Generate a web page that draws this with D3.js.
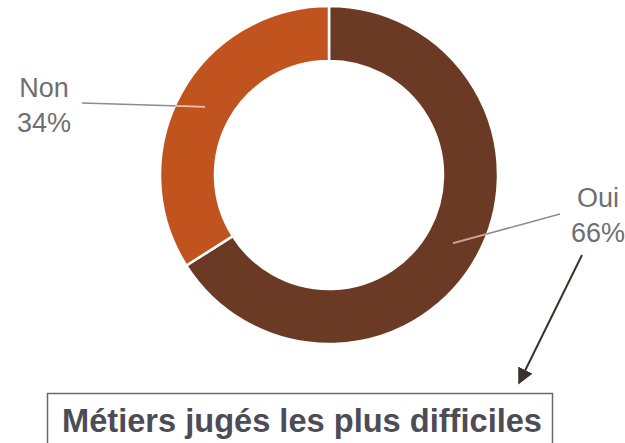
<!DOCTYPE html>
<html>
<head>
<meta charset="utf-8">
<script src="https://cdn.jsdelivr.net/npm/d3@7"></script>
<style>
  html, body { margin: 0; padding: 0; background: #ffffff; }
  svg { display: block; }
</style>
</head>
<body>
<svg id="chart" width="625" height="443"></svg>
<script>
// Share of respondents: is this among the hardest jobs?
const categories = ["Oui", "Non"];
const values = [66, 34];
const valueLabels = ["66%", "34%"];
const sliceColors = ["#6b3a25", "#c1531f"];
const titleText = "Métiers jugés les plus difficiles";

const svg = d3.select("#chart");
const cx = 329, cy = 175;
const outerR = 169, innerR = 114;

const pie = d3.pie().sort(null).value(d => d.value);
const arcs = pie(categories.map((c, i) => ({ name: c, value: values[i], label: valueLabels[i], color: sliceColors[i] })));
const arc = d3.arc().innerRadius(innerR).outerRadius(outerR);

const g = svg.append("g").attr("transform", `translate(${cx},${cy})`);

g.selectAll("path.slice")
  .data(arcs)
  .enter().append("path")
  .attr("class", "slice")
  .attr("d", arc)
  .attr("fill", d => d.data.color)
  .attr("stroke", "#ffffff")
  .attr("stroke-width", 2.5)
  .attr("stroke-linejoin", "miter");

// Leader lines run from each slice centroid out to its label
const labelAnchors = {
  "Oui": { line: [560 - cx, 214 - cy], text: [598 - cx, 207 - cy] },
  "Non": { line: [82 - cx, 103 - cy], text: [44 - cx, 97 - cy] }
};

arcs.forEach(d => {
  const a = labelAnchors[d.data.name];
  const c = arc.centroid(d);
  // outer part of the leader, in grey
  g.append("line")
    .attr("x1", c[0]).attr("y1", c[1])
    .attr("x2", a.line[0]).attr("y2", a.line[1])
    .attr("stroke", "#8c8c8c").attr("stroke-width", 1.5);
  // portion lying over the slice, drawn lighter
  const dx = a.line[0] - c[0], dy = a.line[1] - c[1];
  let t = 0;
  for (let s = 0; s <= 1; s += 0.005) {
    const x = c[0] + dx * s, y = c[1] + dy * s;
    if (Math.hypot(x, y) <= outerR) t = s; else break;
  }
  g.append("line")
    .attr("x1", c[0]).attr("y1", c[1])
    .attr("x2", c[0] + dx * t).attr("y2", c[1] + dy * t)
    .attr("stroke", d.data.name === "Non" ? "#e6c3a8" : "#c9a48e")
    .attr("stroke-width", 1.8);

  const txt = g.append("text")
    .attr("x", a.text[0]).attr("y", a.text[1])
    .attr("text-anchor", "middle")
    .attr("font-family", "Liberation Sans, Arial, sans-serif")
    .attr("font-size", 27)
    .attr("fill", "#6f6f73");
  txt.append("tspan").attr("x", a.text[0]).text(d.data.name);
  txt.append("tspan").attr("x", a.text[0]).attr("dy", 35).text(d.data.label);
});

// Arrow pointing down to the caption box
const defs = svg.append("defs");
defs.append("marker")
  .attr("id", "arrowhead")
  .attr("viewBox", "0 0 10 10")
  .attr("refX", 9).attr("refY", 5)
  .attr("markerWidth", 8).attr("markerHeight", 8)
  .attr("markerUnits", "strokeWidth")
  .attr("orient", "auto")
  .append("path")
  .attr("d", "M0,0 L10,5 L0,10 Z")
  .attr("fill", "#3a3230");

svg.append("line")
  .attr("x1", 582).attr("y1", 255)
  .attr("x2", 519).attr("y2", 383)
  .attr("stroke", "#3a3230").attr("stroke-width", 2)
  .attr("marker-end", "url(#arrowhead)");

// Caption box
svg.append("rect")
  .attr("x", 47.5).attr("y", 393.5)
  .attr("width", 505).attr("height", 60)
  .attr("fill", "#ffffff")
  .attr("stroke", "#6a6a6a").attr("stroke-width", 1.5);

svg.append("text")
  .attr("x", 62).attr("y", 432)
  .attr("font-family", "Liberation Sans, Arial, sans-serif")
  .attr("font-weight", "bold")
  .attr("font-size", 33)
  .attr("textLength", 480)
  .attr("lengthAdjust", "spacingAndGlyphs")
  .attr("fill", "#4d4c56")
  .text(titleText);
</script>
</body>
</html>
